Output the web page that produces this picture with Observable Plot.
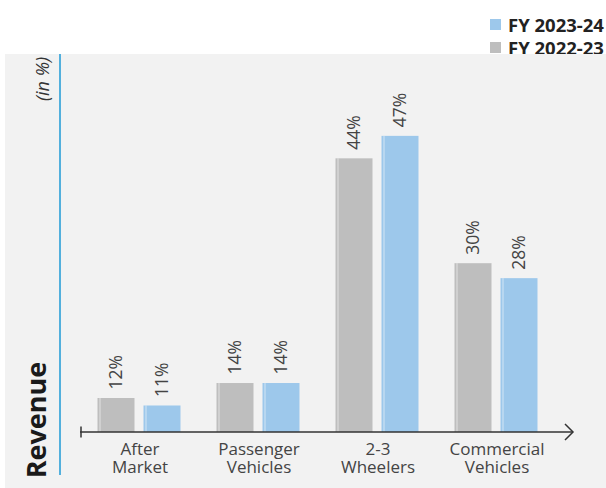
<!DOCTYPE html>
<html>
<head>
<meta charset="utf-8">
<script src="https://cdn.jsdelivr.net/npm/d3@7"></script>
<script src="https://cdn.jsdelivr.net/npm/@observablehq/plot@0.6"></script>
<style>
  html, body { margin: 0; padding: 0; background: #ffffff; width: 606px; height: 488px; overflow: hidden; }
  #legend { position: absolute; left: 490px; top: 13px; font-family: "Open Sans", sans-serif; font-weight: 700; font-size: 18.5px; color: #222; }
  #legend .row { display: flex; align-items: center; height: 23px; }
  #legend .sw { width: 11px; height: 11px; margin-right: 7px; }
  #chart { position: absolute; left: 5px; top: 54px; }
</style>
</head>
<body>
<div id="legend"></div>
<div id="chart"></div>
<script>
// ---- data ----
const categories = ["After Market", "Passenger Vehicles", "2-3 Wheelers", "Commercial Vehicles"];
const tickLabels = ["After\nMarket", "Passenger\nVehicles", "2-3\nWheelers", "Commercial\nVehicles"];
const series = ["FY 2022-23", "FY 2023-24"];
const fy2022_23 = [12, 14, 44, 30];
const fy2023_24 = [11, 14, 47, 28];
const seriesColors = ["#bebebe", "#9dc8eb"];
const legendOrder = ["FY 2023-24", "FY 2022-23"];

const values = {"FY 2022-23": fy2022_23, "FY 2023-24": fy2023_24};
const data = [];
categories.forEach((c, i) => series.forEach(s => data.push({category: c, series: s, value: values[s][i]})));

// ---- legend ----
const leg = d3.select("#legend");
legendOrder.forEach(s => {
  const row = leg.append("div").attr("class", "row");
  row.append("div").attr("class", "sw").style("background", seriesColors[series.indexOf(s)]);
  row.append("div").text(s);
});

// ---- chart ----
const W = 601, H = 434;
const hasAxisMark = typeof Plot.axisFx === "function";
const fxFormat = d => tickLabels[categories.indexOf(d)];
const marks = [
  Plot.barY(data, {fx: "category", x: "series", y: "value", fill: "series"}),
  Plot.barY(data, {fx: "category", x: "series", y: "value", fill: "#ffffff", fillOpacity: 0.55, insetLeft: 2, insetRight: 34}),
  Plot.text(data, {fx: "category", x: "series", y: "value", text: d => d.value + "%", rotate: -90, textAnchor: "start", dy: -9, fill: "#444", fontSize: 17.5})
];
if (hasAxisMark) {
  marks.push(Plot.axisFx({anchor: "bottom", tickSize: 0, tickPadding: 10, tickFormat: fxFormat, lineHeight: 1.06, fontSize: 17, label: null}));
}
const chart = Plot.plot({
  width: W,
  height: H,
  marginLeft: 56.5,
  marginRight: 32,
  marginTop: 20,
  marginBottom: 56,
  style: {background: "#f2f2f2", fontFamily: "Open Sans, sans-serif", fontSize: "17px", color: "#444", overflow: "visible"},
  fx: hasAxisMark
    ? {domain: categories, paddingInner: 0.289, paddingOuter: 0.289, label: null, axis: null}
    : {domain: categories, paddingInner: 0.289, paddingOuter: 0.289, label: null, tickSize: 0, tickPadding: 11, tickFormat: fxFormat},
  x: {domain: series, paddingInner: 0.19, paddingOuter: 0, axis: null},
  y: {domain: [7.46, 55.26], clamp: true, axis: null},
  color: {domain: series, range: seriesColors},
  marks
});
document.getElementById("chart").appendChild(chart);

// ---- decorations ----
const svg = d3.select(chart);
const baseY = H - 56;
svg.append("line").attr("x1", 55).attr("x2", 55).attr("y1", 0).attr("y2", 421)
  .attr("stroke", "#1e9ad6").attr("stroke-width", 1.5);
svg.append("line").attr("x1", 75).attr("x2", 568).attr("y1", baseY).attr("y2", baseY)
  .attr("stroke", "#333").attr("stroke-width", 1.5);
svg.append("line").attr("x1", 76).attr("x2", 76).attr("y1", baseY - 5.5).attr("y2", baseY + 5.5)
  .attr("stroke", "#333").attr("stroke-width", 1.5);
svg.append("path").attr("d", `M${560},${baseY - 8}L${568},${baseY}L${560},${baseY + 8}`)
  .attr("fill", "none").attr("stroke", "#333").attr("stroke-width", 1.5);
svg.append("text").attr("transform", `translate(41,366) rotate(-90)`)
  .attr("text-anchor", "middle").attr("font-size", 27).attr("font-weight", 700)
  .attr("fill", "#1a1a1a").text("Revenue");
svg.append("text").attr("transform", `translate(44,25) rotate(-90)`)
  .attr("text-anchor", "middle").attr("font-size", 18).attr("font-style", "italic")
  .attr("fill", "#333").text("(in %)");
</script>
</body>
</html>
